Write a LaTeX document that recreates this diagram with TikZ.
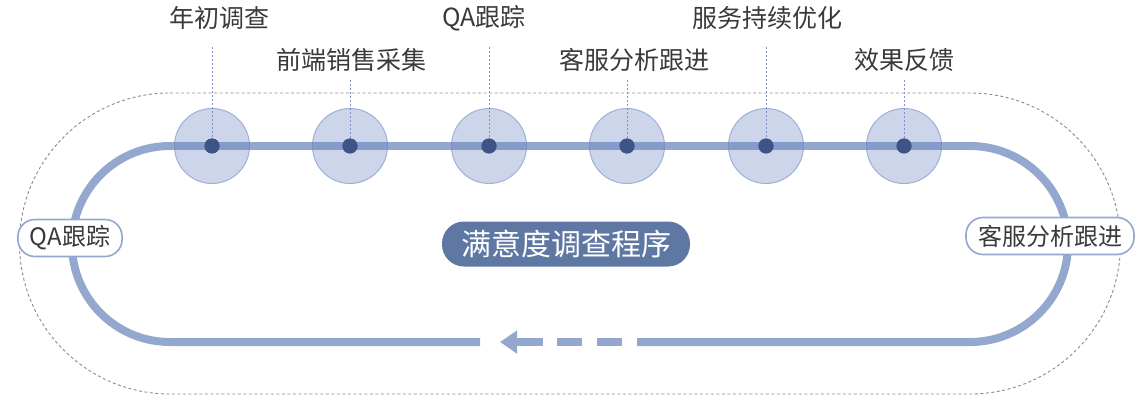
\documentclass[tikz,border=0pt]{standalone}
\usepackage{fontspec}
\newfontfamily\cjk{Noto Sans CJK SC}
\usetikzlibrary{arrows.meta}
\definecolor{trackc}{HTML}{6F88BE}
\definecolor{tracklt}{HTML}{93A7CF}
\definecolor{circfill}{HTML}{CDD5EA}
\definecolor{circedge}{HTML}{9FB0D6}
\definecolor{dotc}{HTML}{3E5487}
\definecolor{pillc}{HTML}{5F77A3}
\definecolor{txt}{HTML}{3A3A3A}
\definecolor{leadc}{HTML}{7F93C8}
\definecolor{outerc}{HTML}{8A8A8A}
\tikzset{
  track/.style={draw=tracklt, line width=8pt},
  toptrack/.style={draw=trackc, draw opacity=0.75, line width=8pt},
  stop/.style={circle, draw=circedge, line width=1pt, fill=circfill, minimum size=75pt, inner sep=0pt},
  dotnode/.style={circle, fill=dotc, minimum size=15pt, inner sep=0pt},
  steplabel/.style={font=\cjk\fontsize{25}{30}\selectfont, text=txt, inner sep=0pt},
  sidelabel/.style={rounded corners=17pt, draw=tracklt, line width=1.6pt, fill=white, font=\cjk\fontsize{24}{28}\selectfont, text=txt, minimum height=37pt, inner xsep=12pt, inner ysep=0pt},
  pill/.style={rounded corners=22pt, fill=pillc, text=white, font=\cjk\fontsize{30}{34}\selectfont, minimum height=45pt, minimum width=248pt, inner sep=0pt},
  leader/.style={draw=leadc, line width=1pt, dash pattern=on 2pt off 2pt},
  outer/.style={draw=outerc, line width=0.9pt, dash pattern=on 3pt off 2.5pt},
}
\begin{document}
\begin{tikzpicture}[x=1pt,y=-1pt]
\useasboundingbox (0,0) rectangle (1137,398);
% outer dotted stadium
\draw[outer] (170,93) -- (970,93) arc(-90:90:150.5) -- (170,394) arc(90:270:150.5) -- cycle;
% track (bottom and sides)
\draw[track] (480,342) -- (170,342) arc(90:270:98);
\draw[track] (970,146) arc(-90:90:98) -- (637,342);
% arrow and dashes on bottom
\draw[draw=tracklt, line width=8pt, -{Triangle[length=17pt,width=22pt]}] (543,342) -- (500,342);
\draw[track] (582,342) -- (557,342);
\draw[track] (622,342) -- (597,342);
% stops
\foreach \i/\x in {1/212,2/350,3/489,4/627,5/766,6/904}{
  \node[stop] (c\i) at (\x,146) {};
}
% top track drawn over circles
\draw[toptrack] (170,146) -- (970,146);
% labels
\node[steplabel] (l1) at (219,18) {年初调查};
\node[steplabel] (l2) at (351,60) {前端销售采集};
\node[steplabel] (l3) at (484,18) {QA跟踪};
\node[steplabel] (l4) at (634,60) {客服分析跟进};
\node[steplabel] (l5) at (767,18) {服务持续优化};
\node[steplabel] (l6) at (904,60) {效果反馈};
\coordinate (t1) at (212,47);
\coordinate (t2) at (350,80);
\coordinate (t3) at (489,47);
\coordinate (t4) at (627,80);
\coordinate (t5) at (766,47);
\coordinate (t6) at (904,80);
\foreach \i/\x in {1/212,2/350,3/489,4/627,5/766,6/904}{
  \node[dotnode] (d\i) at (\x,146) {};
  \draw[leader] (t\i) -- (d\i.center);
}
\foreach \i in {1,...,6}{ \node[dotnode] at (d\i) {}; }
% side labels
\node[sidelabel] (left) at (70,238) {QA跟踪};
\node[sidelabel] (right) at (1050,236) {客服分析跟进};
% centre
\node[pill] (title) at (566,244) {满意度调查程序};
\end{tikzpicture}
\end{document}
